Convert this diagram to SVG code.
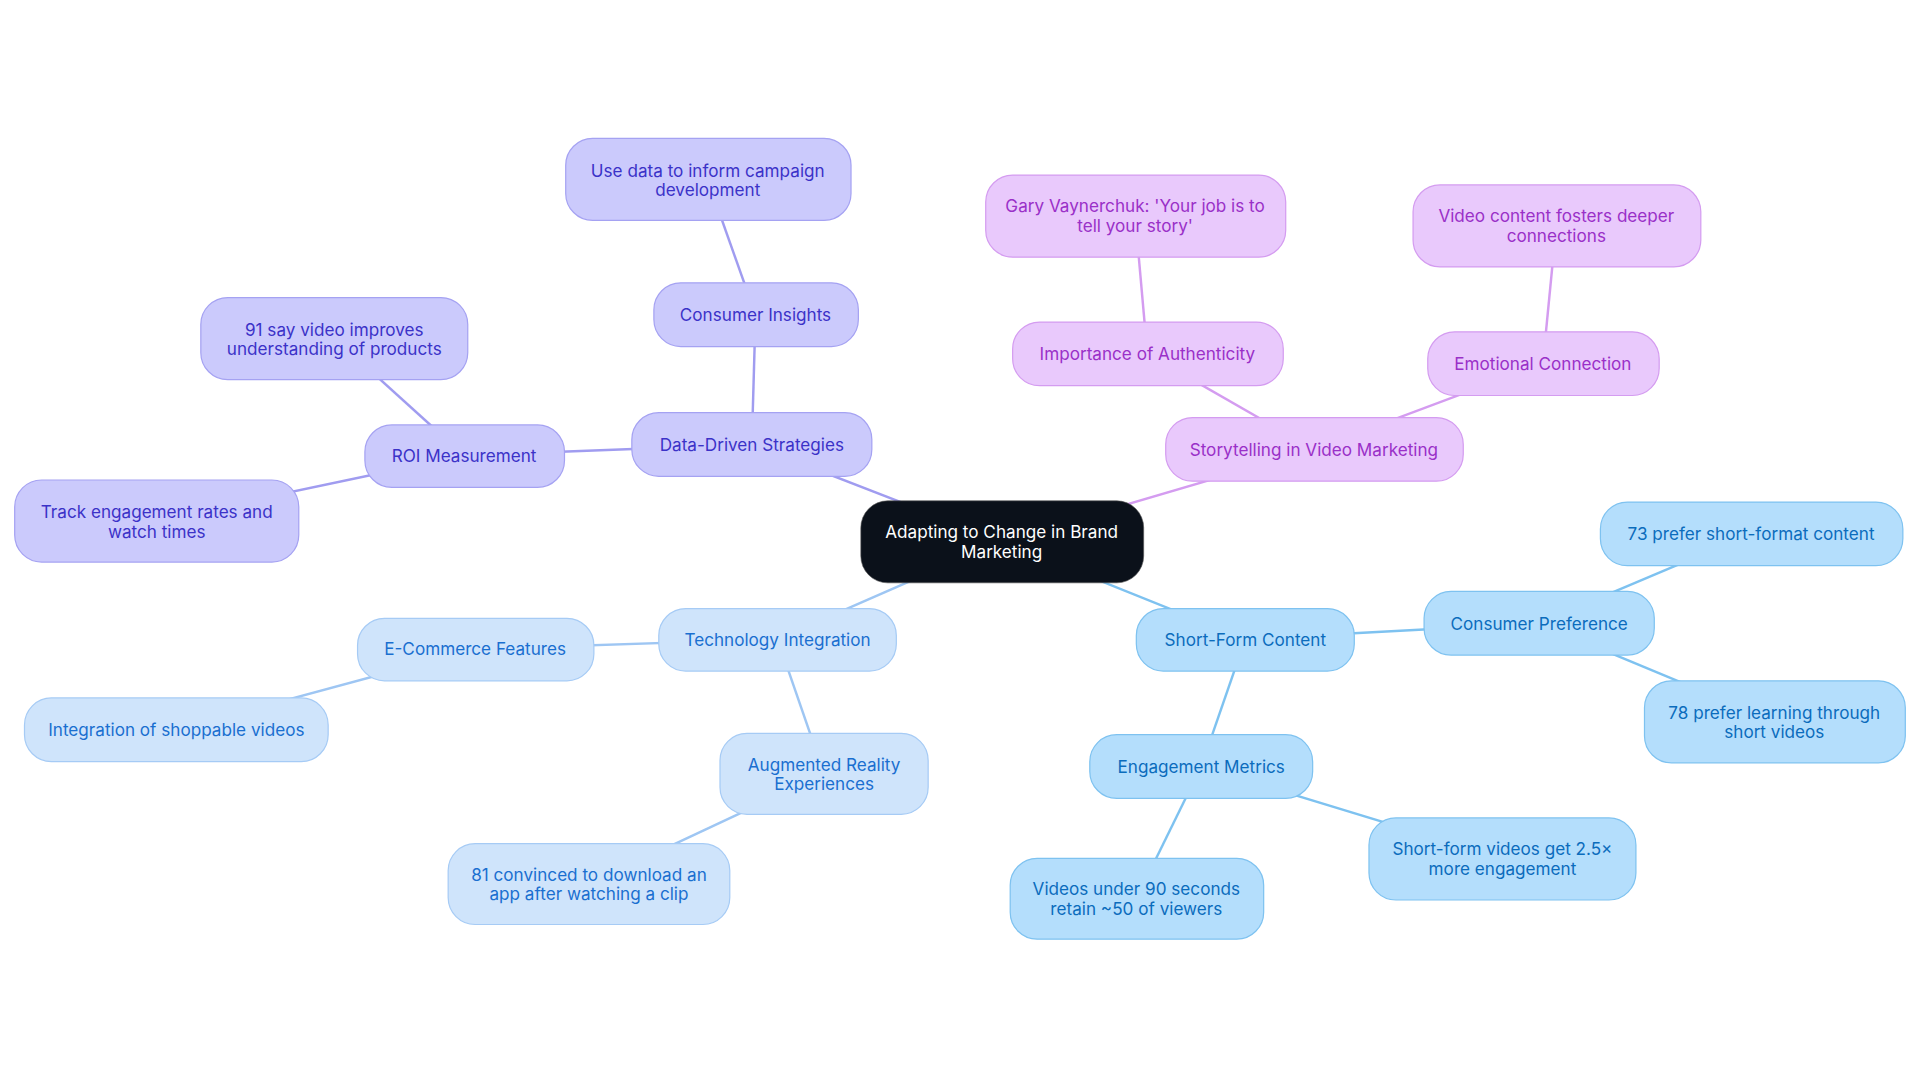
<svg xmlns="http://www.w3.org/2000/svg" width="1920" height="1083" viewBox="0 0 1920 1083">
<style>
text{font-family:Inter,"Noto Sans",sans-serif;font-size:14px;text-anchor:middle;dominant-baseline:central}
.e{stroke-width:2;fill:none}
.p rect{fill:#cbcafc;stroke:#a5a2f2;stroke-width:1}.p text{fill:#3b32c8}
.k rect{fill:#e9c9fc;stroke:#d49cf0;stroke-width:1}.k text{fill:#9a30c8}
.l rect{fill:#cfe4fb;stroke:#a6cbf5;stroke-width:1}.l text{fill:#1a6fd0}
.b rect{fill:#b4defc;stroke:#7ec2f0;stroke-width:1}.b text{fill:#0b6cbc}
</style>
<rect width="1920" height="1083" fill="#fff"/>
<g transform="scale(1.22449)">
<g id="connectors">
<g stroke="#a09cf0" class="e">
<line x1="818" y1="442" x2="614" y2="363"/><line x1="614" y1="363" x2="617" y2="257"/><line x1="617" y1="257" x2="578" y2="147"/><line x1="614" y1="363" x2="379" y2="372"/><line x1="379" y1="372" x2="273" y2="276"/><line x1="379" y1="372" x2="128" y2="425"/>
</g>
<g stroke="#d49cf0" class="e">
<line x1="818" y1="442" x2="1073" y2="367"/><line x1="1073" y1="367" x2="937" y2="289"/><line x1="937" y1="289" x2="927" y2="176"/><line x1="1073" y1="367" x2="1260" y2="297"/><line x1="1260" y1="297" x2="1271" y2="184"/>
</g>
<g stroke="#9ec6f3" class="e">
<line x1="818" y1="442" x2="635" y2="522"/><line x1="635" y1="522" x2="388" y2="530"/><line x1="388" y1="530" x2="144" y2="596"/><line x1="635" y1="522" x2="673" y2="632"/><line x1="673" y1="632" x2="481" y2="722"/>
</g>
<g stroke="#7ec2f0" class="e">
<line x1="818" y1="442" x2="1017" y2="522"/><line x1="1017" y1="522" x2="1257" y2="509"/><line x1="1257" y1="509" x2="1430" y2="436"/><line x1="1257" y1="509" x2="1449" y2="589"/><line x1="1017" y1="522" x2="981" y2="626"/><line x1="981" y1="626" x2="928" y2="734"/><line x1="981" y1="626" x2="1227" y2="701"/>
</g>
</g>
<g id="root"><rect x="703" y="409" width="231" height="67" rx="22" fill="#0b111a" stroke="#555" stroke-width="0.5"/><text x="818" y="434" fill="#fff">Adapting to Change in Brand</text><text x="818" y="450" fill="#fff">Marketing</text></g>
<g id="n-dds" class="p"><rect x="516" y="337" width="196" height="52" rx="22"/><text x="614" y="363">Data-Driven Strategies</text></g>
<g id="n-ci" class="p"><rect x="534" y="231" width="167" height="52" rx="22"/><text x="617" y="257">Consumer Insights</text></g>
<g id="n-ud" class="p"><rect x="462" y="113" width="233" height="67" rx="22"/><text x="578" y="139">Use data to inform campaign</text><text x="578" y="155">development</text></g>
<g id="n-roi" class="p"><rect x="298" y="347" width="163" height="51" rx="22"/><text x="379" y="372">ROI Measurement</text></g>
<g id="n-91" class="p"><rect x="164" y="243" width="218" height="67" rx="22"/><text x="273" y="269">91 say video improves</text><text x="273" y="285">understanding of products</text></g>
<g id="n-te" class="p"><rect x="12" y="392" width="232" height="67" rx="22"/><text x="128" y="418">Track engagement rates and</text><text x="128" y="434">watch times</text></g>
<g id="n-st" class="k"><rect x="952" y="341" width="243" height="52" rx="22"/><text x="1073" y="367">Storytelling in Video Marketing</text></g>
<g id="n-ia" class="k"><rect x="827" y="263" width="221" height="52" rx="22"/><text x="937" y="289">Importance of Authenticity</text></g>
<g id="n-gv" class="k"><rect x="805" y="143" width="245" height="67" rx="22"/><text x="927" y="168">Gary Vaynerchuk: 'Your job is to</text><text x="927" y="184">tell your story'</text></g>
<g id="n-ec" class="k"><rect x="1166" y="271" width="189" height="52" rx="22"/><text x="1260" y="297">Emotional Connection</text></g>
<g id="n-vc" class="k"><rect x="1154" y="151" width="235" height="67" rx="22"/><text x="1271" y="176">Video content fosters deeper</text><text x="1271" y="192">connections</text></g>
<g id="n-ti" class="l"><rect x="538" y="497" width="194" height="51" rx="22"/><text x="635" y="522">Technology Integration</text></g>
<g id="n-ecf" class="l"><rect x="292" y="505" width="193" height="51" rx="22"/><text x="388" y="530">E-Commerce Features</text></g>
<g id="n-is" class="l"><rect x="20" y="570" width="248" height="52" rx="22"/><text x="144" y="596">Integration of shoppable videos</text></g>
<g id="n-ar" class="l"><rect x="588" y="599" width="170" height="66" rx="22"/><text x="673" y="624">Augmented Reality</text><text x="673" y="640">Experiences</text></g>
<g id="n-81" class="l"><rect x="366" y="689" width="230" height="66" rx="22"/><text x="481" y="714">81 convinced to download an</text><text x="481" y="730">app after watching a clip</text></g>
<g id="n-sf" class="b"><rect x="928" y="497" width="178" height="51" rx="22"/><text x="1017" y="522">Short-Form Content</text></g>
<g id="n-cp" class="b"><rect x="1163" y="483" width="188" height="52" rx="22"/><text x="1257" y="509">Consumer Preference</text></g>
<g id="n-73" class="b"><rect x="1307" y="410" width="247" height="52" rx="22"/><text x="1430" y="436">73 prefer short-format content</text></g>
<g id="n-78" class="b"><rect x="1343" y="556" width="213" height="67" rx="22"/><text x="1449" y="582">78 prefer learning through</text><text x="1449" y="597">short videos</text></g>
<g id="n-em" class="b"><rect x="890" y="600" width="182" height="52" rx="22"/><text x="981" y="626">Engagement Metrics</text></g>
<g id="n-v90" class="b"><rect x="825" y="701" width="207" height="66" rx="22"/><text x="928" y="726">Videos under 90 seconds</text><text x="928" y="742">retain ~50 of viewers</text></g>
<g id="n-25" class="b"><rect x="1118" y="668" width="218" height="67" rx="22"/><text x="1227" y="693">Short-form videos get 2.5×</text><text x="1227" y="709">more engagement</text></g>
</g>
</svg>
